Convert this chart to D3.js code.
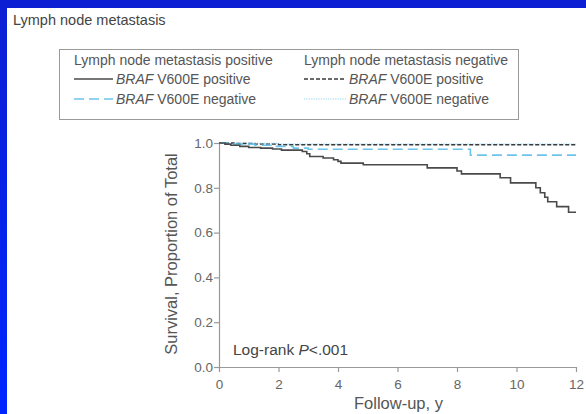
<!DOCTYPE html>
<html>
<head>
<meta charset="utf-8">
<script src="https://cdn.jsdelivr.net/npm/d3@7"></script>
<style>
  body { margin: 0; background: #0a22e6; }
  svg { display: block; }
</style>
</head>
<body>
<svg id="chart" width="586" height="414"></svg>
<script>
  "use strict";

  // x ticks (years) and y ticks (proportion)
  var xTicks = [0, 2, 4, 6, 8, 10, 12];
  var yTicks = [0.0, 0.2, 0.4, 0.6, 0.8, 1.0];

  // Kaplan-Meier steps: [time, survival]
  var lnPosBrafPos = [[0, 1.0], [0.2, 0.995], [0.4, 0.99], [0.7, 0.985], [1.0, 0.98], [1.4, 0.977],
    [1.8, 0.973], [2.1, 0.968], [2.8, 0.962], [2.95, 0.952], [3.05, 0.94], [3.5, 0.933],
    [3.85, 0.925], [4.0, 0.918], [4.1, 0.91], [4.85, 0.903], [7.0, 0.889], [8.0, 0.875],
    [8.15, 0.862], [9.45, 0.845], [9.8, 0.822], [10.65, 0.8], [10.8, 0.778], [10.95, 0.758],
    [11.05, 0.738], [11.35, 0.716], [11.75, 0.691], [12.0, 0.691]];
  var lnPosBrafNeg = [[0, 1.0], [0.5, 0.995], [1.2, 0.99], [1.8, 0.985], [2.5, 0.977],
    [3.0, 0.972], [8.45, 0.946], [12.0, 0.946]];
  var lnNegBrafPos = [[0, 1.0], [0.5, 0.998], [1.2, 0.995], [2.0, 0.992], [12.0, 0.992]];
  var lnNegBrafNeg = [[0, 1.0], [1.0, 0.998], [2.0, 0.995], [12.0, 0.995]];

  var legendHeaders = ["Lymph node metastasis positive", "Lymph node metastasis negative"];

  var series = [
    {name: "lnNegBrafNeg", data: lnNegBrafNeg, color: "#8fd3f2", width: 1.2, dash: "1.2,1.2", col: 1, row: 1},
    {name: "lnNegBrafPos", data: lnNegBrafPos, color: "#3a3a3a", width: 1.4, dash: "4,2", col: 1, row: 0},
    {name: "lnPosBrafNeg", data: lnPosBrafNeg, color: "#6cc4ea", width: 1.6, dash: "10,5", col: 0, row: 1},
    {name: "lnPosBrafPos", data: lnPosBrafPos, color: "#4a4a4a", width: 1.6, dash: null, col: 0, row: 0}
  ];
  var legendLabels = ["V600E positive", "V600E negative"];

  var svg = d3.select("#chart");
  var font = "'Liberation Sans', Arial, sans-serif";
  var textColor = "#555";

  // white panel inside the blue frame
  var grad = svg.append("defs").append("linearGradient")
    .attr("id", "bg").attr("x1", 0).attr("y1", 0).attr("x2", 0).attr("y2", 1);
  grad.append("stop").attr("offset", "0").attr("stop-color", "#0c1fd2");
  grad.append("stop").attr("offset", "1").attr("stop-color", "#0026ff");
  svg.append("rect").attr("width", 586).attr("height", 414).attr("fill", "url(#bg)");
  svg.append("rect").attr("x", 7).attr("y", 8).attr("width", 579).attr("height", 406).attr("fill", "#fff");

  svg.append("text")
    .attr("x", 13).attr("y", 25)
    .style("font-family", font).style("font-size", "14.5px").attr("fill", "#444")
    .text("Lymph node metastasis");

  // legend
  var leg = svg.append("g");
  leg.append("rect")
    .attr("x", 59.5).attr("y", 49.5).attr("width", 459).attr("height", 70)
    .attr("fill", "none").attr("stroke", "#9a9a9a").attr("stroke-width", 1);
  var colX = [74, 304];
  legendHeaders.forEach(function(h, i) {
    leg.append("text")
      .attr("x", colX[i]).attr("y", 65)
      .style("font-family", font).style("font-size", "14px").attr("fill", textColor)
      .text(h);
  });
  series.forEach(function(s) {
    var x0 = colX[s.col];
    var x1 = s.col === 0 ? 113 : 346;
    var yy = 79 + s.row * 20;
    leg.append("line")
      .attr("x1", x0).attr("x2", x1).attr("y1", yy).attr("y2", yy)
      .attr("stroke", s.color).attr("stroke-width", s.width)
      .attr("stroke-dasharray", s.dash);
    var t = leg.append("text")
      .attr("x", x1 + 3).attr("y", yy + 5)
      .style("font-family", font).style("font-size", "14px").attr("fill", textColor);
    t.append("tspan").style("font-style", "italic").text("BRAF");
    t.append("tspan").text(" " + legendLabels[s.row]);
  });

  // scales
  var margin = {left: 219, top: 143, right: 576, bottom: 367};
  var x = d3.scaleLinear().domain([0, 12]).range([margin.left, margin.right]);
  var y = d3.scaleLinear().domain([0, 1]).range([margin.bottom, margin.top]);

  var xAxis = svg.append("g")
    .attr("transform", "translate(0," + margin.bottom + ")")
    .call(d3.axisBottom(x).tickValues(xTicks).tickSize(5).tickSizeOuter(0).tickFormat(d3.format("d")));
  var yAxis = svg.append("g")
    .attr("transform", "translate(" + margin.left + ",0)")
    .call(d3.axisLeft(y).tickValues(yTicks).tickSize(5).tickSizeOuter(0).tickFormat(d3.format(".1f")));
  [xAxis, yAxis].forEach(function(g) {
    g.select(".domain").attr("stroke", "#999").attr("stroke-width", 1.2);
    g.selectAll(".tick line").attr("stroke", "#999").attr("stroke-width", 1.2);
    g.selectAll(".tick text")
      .style("font-family", font).style("font-size", "13.5px").attr("fill", "#666");
  });
  xAxis.selectAll(".tick text").attr("dy", "1.05em");
  yAxis.selectAll(".tick text").attr("x", -6);

  svg.append("text")
    .attr("x", (margin.left + margin.right) / 2 + 1).attr("y", 409)
    .attr("text-anchor", "middle")
    .style("font-family", font).style("font-size", "16.5px").attr("fill", textColor)
    .text("Follow-up, y");

  svg.append("text")
    .attr("transform", "translate(177," + ((margin.top + margin.bottom) / 2 - 1) + ") rotate(-90)")
    .attr("text-anchor", "middle")
    .style("font-family", font).style("font-size", "16.5px").attr("fill", textColor)
    .text("Survival, Proportion of Total");

  var lr = svg.append("text")
    .attr("x", 233).attr("y", 355)
    .style("font-family", font).style("font-size", "15.5px").attr("fill", "#444");
  lr.append("tspan").text("Log-rank ");
  lr.append("tspan").style("font-style", "italic").text("P");
  lr.append("tspan").text("<.001");

  // survival curves
  var line = d3.line()
    .x(function(d) { return x(d[0]); })
    .y(function(d) { return y(d[1]); })
    .curve(d3.curveStepAfter);

  svg.append("g").selectAll("path")
    .data(series)
    .enter().append("path")
    .attr("d", function(s) { return line(s.data); })
    .attr("fill", "none")
    .attr("stroke", function(s) { return s.color; })
    .attr("stroke-width", function(s) { return s.width; })
    .attr("stroke-dasharray", function(s) { return s.dash; });
</script>
</body>
</html>
